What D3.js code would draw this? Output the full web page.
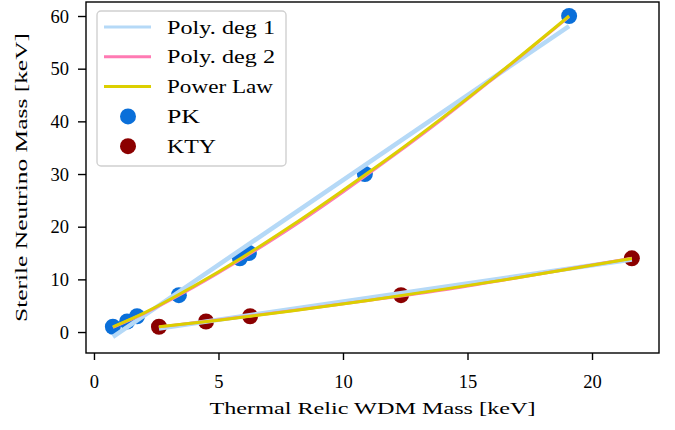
<!DOCTYPE html>
<html>
<head>
<meta charset="utf-8">
<script src="https://cdn.jsdelivr.net/npm/d3@7"></script>
<style>
  body { margin: 0; background: #fff; }
  text { font-family: "Liberation Serif", "DejaVu Serif", serif; fill: #000; }
</style>
</head>
<body>
<div id="plot"></div>
<script>
const CANVAS_WIDTH  = 675;
const CANVAS_HEIGHT = 430;

const AX_LEFT   = 86;
const AX_RIGHT  = 659;
const AX_TOP    = 2;
const AX_BOTTOM = 353;

const X_DOMAIN = [-0.32, 22.69];
const Y_DOMAIN = [-3.98, 62.66];
const X_TICKS = [0, 5, 10, 15, 20];
const Y_TICKS = [0, 10, 20, 30, 40, 50, 60];

// measured points
const pk_x  = [0.76, 1.33, 1.73, 3.41, 5.86, 6.22, 10.88, 19.08];
const pk_y  = [1, 2, 3, 7, 14, 15, 30, 60];
const kty_x = [2.61, 4.5, 6.27, 12.33, 21.6];
const kty_y = [1, 2, 3, 7, 14];

// fit curves
const pk_deg1  = [[0.76, -0.9], [19.08, 58.1]];
const pk_deg2  = [[0.76, 0.9], [2, 3.5], [4, 8.5], [6, 14.1], [8, 20.1], [10, 26.6], [12, 33.4], [14, 40.5], [16, 48.0], [19.08, 59.9]];
const pk_pow   = [[0.76, 1.0], [2, 3.6], [4, 8.7], [6, 14.3], [8, 20.4], [10, 26.9], [12, 33.6], [14, 40.7], [16, 48.1], [19.08, 60.0]];
const kty_deg1 = [[2.61, 0.68], [21.6, 13.77]];
const kty_deg2 = [[2.61, 0.98], [5, 2.3], [8, 4.1], [11, 6.0], [14, 8.0], [17, 10.3], [21.6, 14.0]];
const kty_pow  = [[2.61, 1.0], [5, 2.25], [8, 4.05], [11, 6.0], [14, 8.1], [17, 10.3], [21.6, 13.95]];

const LEGEND_LABELS = ["Poly. deg 1", "Poly. deg 2", "Power Law", "PK", "KTY"];
const LEGEND_WIDTHS = [108, 108, 106, 33, 49];

const C_DEG1 = "#b5d9f7";
const C_DEG2 = "#ff7ab3";
const C_POW  = "#dccf00";
const C_PK   = "#0a6fd9";
const C_KTY  = "#8b0000";

var svg = d3.select("#plot")
  .append("svg")
  .attr("width", CANVAS_WIDTH)
  .attr("height", CANVAS_HEIGHT);

var xScale = d3.scaleLinear().domain(X_DOMAIN).range([AX_LEFT, AX_RIGHT]);
var yScale = d3.scaleLinear().domain(Y_DOMAIN).range([AX_BOTTOM, AX_TOP]);

svg.append("clipPath").attr("id", "clip")
  .append("rect")
  .attr("x", AX_LEFT).attr("y", AX_TOP)
  .attr("width", AX_RIGHT - AX_LEFT).attr("height", AX_BOTTOM - AX_TOP);

var plot = svg.append("g").attr("clip-path", "url(#clip)");
var line = d3.line().curve(d3.curveMonotoneX).x(d => xScale(d[0])).y(d => yScale(d[1]));

// scatter points (drawn under the fits)
plot.selectAll("circle.pk")
    .data(d3.zip(pk_x, pk_y))
    .enter().append("circle")
    .attr("class", "pk")
    .attr("cx", d => xScale(d[0]))
    .attr("cy", d => yScale(d[1]))
    .attr("r", 8)
    .attr("fill", C_PK);

plot.selectAll("circle.kty")
    .data(d3.zip(kty_x, kty_y))
    .enter().append("circle")
    .attr("class", "kty")
    .attr("cx", d => xScale(d[0]))
    .attr("cy", d => yScale(d[1]))
    .attr("r", 8)
    .attr("fill", C_KTY);

// fit lines
[[pk_deg1, C_DEG1, 4.5], [pk_deg2, C_DEG2, 3], [pk_pow, C_POW, 3],
 [kty_deg1, C_DEG1, 4.5], [kty_deg2, C_DEG2, 3], [kty_pow, C_POW, 3]].forEach(function(s) {
  plot.append("path")
      .attr("d", line(s[0]))
      .attr("fill", "none")
      .attr("stroke", s[1])
      .attr("stroke-width", s[2]);
});

// axes
var xAxis = d3.axisBottom(xScale).tickValues(X_TICKS).tickSize(7).tickFormat(d3.format("d"));
var yAxis = d3.axisLeft(yScale).tickValues(Y_TICKS).tickSize(8).tickFormat(d3.format("d"));

var gx = svg.append("g").attr("transform", "translate(0," + AX_BOTTOM + ")").call(xAxis);
var gy = svg.append("g").attr("transform", "translate(" + AX_LEFT + ",0)").call(yAxis);
[gx, gy].forEach(function(g) {
  g.select(".domain").remove();
  g.selectAll(".tick line").attr("stroke", "#000").attr("stroke-width", 1.4);
  g.selectAll(".tick text")
   .style("font-size", "18.5px")
   .style("font-family", "'Liberation Serif', serif");
});
gx.selectAll(".tick text").attr("y", 35).attr("dy", 0);
gy.selectAll(".tick text").attr("x", -17).attr("dy", "0.34em");

svg.append("rect")
   .attr("x", AX_LEFT).attr("y", AX_TOP)
   .attr("width", AX_RIGHT - AX_LEFT).attr("height", AX_BOTTOM - AX_TOP)
   .attr("fill", "none").attr("stroke", "#000").attr("stroke-width", 1.4);

// axis labels
svg.append("text")
   .attr("x", (AX_LEFT + AX_RIGHT) / 2)
   .attr("y", 414)
   .attr("text-anchor", "middle")
   .attr("textLength", 326)
   .attr("lengthAdjust", "spacingAndGlyphs")
   .style("font-size", "17.5px")
   .text("Thermal Relic WDM Mass [keV]");

svg.append("text")
   .attr("transform", "translate(27," + ((AX_TOP + AX_BOTTOM) / 2) + ") rotate(-90)")
   .attr("text-anchor", "middle")
   .attr("textLength", 289)
   .attr("lengthAdjust", "spacingAndGlyphs")
   .style("font-size", "17.5px")
   .text("Sterile Neutrino Mass [keV]");

// legend
var legend = svg.append("g");
legend.append("rect")
      .attr("x", 97).attr("y", 11)
      .attr("width", 189).attr("height", 155)
      .attr("rx", 4)
      .attr("fill", "#fff").attr("fill-opacity", 0.8)
      .attr("stroke", "#d0d0d0").attr("stroke-width", 1.4);

var legendColors = [C_DEG1, C_DEG2, C_POW, C_PK, C_KTY];
LEGEND_LABELS.forEach(function(label, i) {
  var yy = 27 + i * 29.8;
  if (i < 3) {
    legend.append("line")
          .attr("x1", 104).attr("x2", 151)
          .attr("y1", yy).attr("y2", yy)
          .attr("stroke", legendColors[i]).attr("stroke-width", 3);
  } else {
    legend.append("circle")
          .attr("cx", 128).attr("cy", yy).attr("r", 8)
          .attr("fill", legendColors[i]);
  }
  legend.append("text")
        .attr("x", 167).attr("y", yy + 6.5)
        .attr("textLength", LEGEND_WIDTHS[i])
        .attr("lengthAdjust", "spacingAndGlyphs")
        .style("font-size", "18.5px")
        .text(label);
});
</script>
</body>
</html>
